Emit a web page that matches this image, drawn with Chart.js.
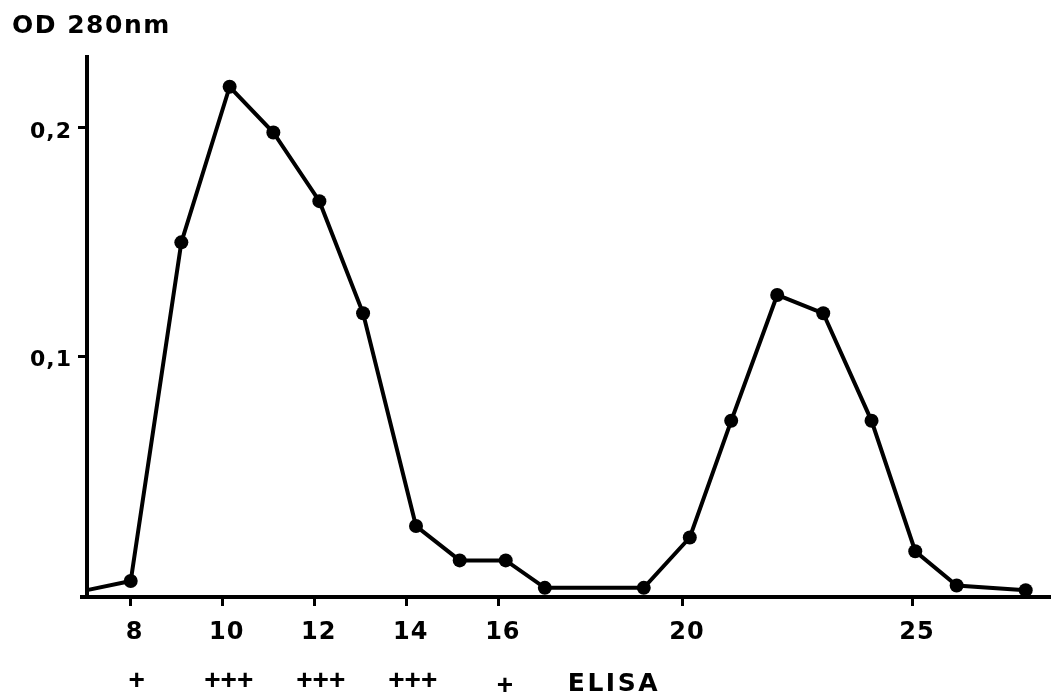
<!DOCTYPE html>
<html>
<head>
<meta charset="utf-8">
<script src="https://cdn.jsdelivr.net/npm/chart.js@4/dist/chart.umd.min.js"></script>
<style>
  html, body { margin: 0; padding: 0; background: #fff; }
  #wrap { width: 1051px; height: 697px; }
</style>
</head>
<body>
<div id="wrap"><canvas id="c" width="1051" height="697"></canvas></div>
<script>
// ---- data ----
const fractions = [7.05, 8, 9.1, 10.15, 11.1, 12.1, 13.05, 14.2, 15.15, 16.15, 17.0, 19.15, 20.15, 21.05, 22.05, 23.05, 24.1, 25.05, 25.95, 27.45];
const od280 = [-0.002, 0.002, 0.150, 0.218, 0.198, 0.168, 0.119, 0.026, 0.011, 0.011, -0.001, -0.001, 0.021, 0.072, 0.127, 0.119, 0.072, 0.015, 0.0, -0.002];
const xTickValues = [8, 10, 12, 14, 16, 20, 25];
const yTickValues = [0.1, 0.2];
const yTickLabels = ['0,1', '0,2'];
const elisaFractions = [8, 10, 12, 14, 16];
const elisaMarks = ['+', '+++', '+++', '+++', '+'];
const titleText = 'OD 280nm';
const elisaText = 'ELISA';

const points = fractions.map((x, i) => ({ x: x, y: od280[i] }));
const radii = fractions.map((x, i) => (i === 0 ? 0 : 7));

const FONT = '"DejaVu Sans", "Liberation Sans", sans-serif';

const textPlugin = {
  id: 'textPlugin',
  beforeDraw(chart) {
    chart.ctx.letterSpacing = '1px';
  },
  afterDraw(chart) {
    const ctx = chart.ctx;
    const xs = chart.scales.x;
    ctx.save();
    ctx.fillStyle = '#000';
    // title
    ctx.letterSpacing = '1.5px';
    ctx.font = 'bold 25px ' + FONT;
    ctx.textAlign = 'left';
    ctx.textBaseline = 'alphabetic';
    ctx.fillText(titleText, 12, 33);
    // ELISA row
    ctx.letterSpacing = '0px';
    ctx.font = 'bold 28px "Liberation Sans", sans-serif';
    ctx.textAlign = 'center';
    ctx.textBaseline = 'middle';
    let lastX = 0;
    elisaFractions.forEach((f, i) => {
      const px = xs.getPixelForValue(f) + 6;
      const py = (i === elisaFractions.length - 1) ? 686 : 681;
      ctx.fillText(elisaMarks[i], px, py);
      lastX = px;
    });
    ctx.letterSpacing = '2.5px';
    ctx.font = 'bold 25px ' + FONT;
    ctx.textAlign = 'left';
    ctx.textBaseline = 'alphabetic';
    ctx.fillText(elisaText, lastX + 63, 691);
    // small extension of the x axis to the left of the y axis
    ctx.fillRect(80, xs.top - 2, 8, 4);
    ctx.restore();
  }
};

new Chart(document.getElementById('c'), {
  type: 'line',
  data: {
    datasets: [{
      data: points,
      borderColor: '#000',
      borderWidth: 4,
      pointRadius: radii,
      pointBackgroundColor: '#000',
      pointBorderColor: '#000',
      pointBorderWidth: 0,
      tension: 0,
      fill: false,
      clip: false
    }]
  },
  options: {
    responsive: false,
    devicePixelRatio: 1,
    animation: false,
    layout: { autoPadding: false, padding: { top: 57, left: 0, right: 0, bottom: 0 } },
    plugins: { legend: { display: false }, tooltip: { enabled: false }, title: { display: false } },
    scales: {
      x: {
        type: 'linear',
        min: 7.05,
        max: 28,
        afterBuildTicks: s => { s.ticks = xTickValues.map(v => ({ value: v })); },
        afterFit: s => { s.height = 100; },
        ticks: {
          color: '#000',
          font: { family: FONT, size: 24, weight: 'bold' },
          padding: 12,
          labelOffset: 4,
          maxRotation: 0,
          autoSkip: false,
          callback: v => String(v)
        },
        grid: { drawOnChartArea: false, drawTicks: true, tickLength: 9, tickWidth: 3, tickColor: '#000' },
        border: { display: true, width: 4, color: '#000' }
      },
      y: {
        type: 'linear',
        min: -0.005,
        max: 0.231,
        afterBuildTicks: s => { s.ticks = yTickValues.map(v => ({ value: v })); },
        afterFit: s => { s.width = 87; },
        ticks: {
          color: '#000',
          font: { family: FONT, size: 22, weight: 'bold' },
          padding: 6,
          labelOffset: 4,
          autoSkip: false,
          callback: v => {
            const i = yTickValues.findIndex(t => Math.abs(t - v) < 1e-9);
            return i >= 0 ? yTickLabels[i] : '';
          }
        },
        grid: { drawOnChartArea: false, drawTicks: true, tickLength: 9, tickWidth: 3, tickColor: '#000' },
        border: { display: true, width: 4, color: '#000' }
      }
    }
  },
  plugins: [textPlugin]
});
</script>
</body>
</html>
